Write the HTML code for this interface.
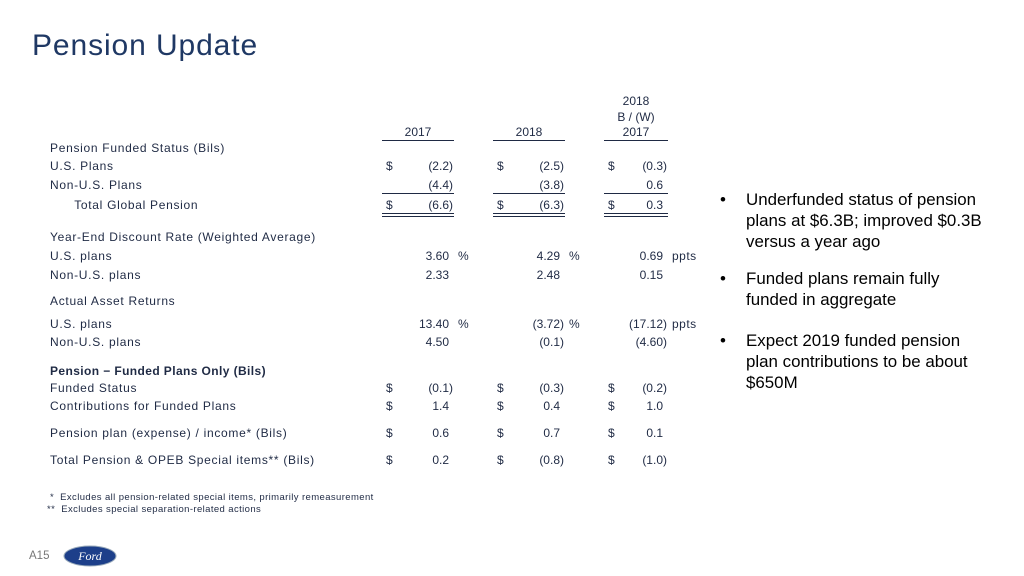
<!DOCTYPE html>
<html><head><meta charset="utf-8">
<style>
body{margin:0;width:1024px;height:576px;background:#fff;position:relative;overflow:hidden;font-family:"Liberation Sans",sans-serif;color:#1f2a44}
.t{position:absolute;font-size:11.5px;line-height:14px;white-space:nowrap}
.lab{font-size:12px;letter-spacing:.7px}
.r{text-align:right}
.b{position:absolute;font-size:16.9px;line-height:21px;color:#000;white-space:nowrap}
.ln{position:absolute;height:1px;background:#1f2a44}
</style></head><body>
<div style="position:absolute;left:32px;top:29px;font-size:30px;letter-spacing:.9px;color:#1f3864">Pension Update</div>
<div id="tbl"></div>
<div>
<div class="b" style="left:720px;top:189px">•</div><div class="b" style="left:746px;top:189px">Underfunded status of pension<br>plans at $6.3B; improved $0.3B<br>versus a year ago</div>
<div class="b" style="left:720px;top:268px">•</div><div class="b" style="left:746px;top:268px">Funded plans remain fully<br>funded in aggregate</div>
<div class="b" style="left:720px;top:330px">•</div><div class="b" style="left:746px;top:330px">Expect 2019 funded pension<br>plan contributions to be about<br>$650M</div>
</div>
<div class="t" style="left:50px;top:491px;font-size:9.5px;letter-spacing:.4px">* &nbsp;Excludes all pension-related special items, primarily remeasurement</div>
<div class="t" style="left:47px;top:503px;font-size:9.5px;letter-spacing:.4px">** &nbsp;Excludes special separation-related actions</div>
<div class="t" style="left:29px;top:549px;color:#777">A15</div>
<svg style="position:absolute;left:63px;top:545px" width="54" height="22"><ellipse cx="27" cy="11" rx="26" ry="10" fill="#1d3f8a" stroke="#9ab" stroke-width="1"/><text x="27" y="15" font-size="12" font-style="italic" fill="#fff" text-anchor="middle" font-family="Liberation Serif,serif">Ford</text></svg>
<script>
const rows=[
 [148,"Pension Funded Status (Bils)"],
 [166,"U.S. Plans",["$","(2.2)"],["$","(2.5)"],["$","(0.3)"]],
 [185,"Non-U.S. Plans",["","(4.4)"],["","(3.8)"],["","0.6"]],
 [205,"   Total Global Pension",["$","(6.6)"],["$","(6.3)"],["$","0.3"]],
 [237,"Year-End Discount Rate (Weighted Average)"],
 [256,"U.S. plans",["","3.60","%"],["","4.29","%"],["","0.69","ppts"]],
 [275,"Non-U.S. plans",["","2.33"],["","2.48"],["","0.15"]],
 [301,"Actual Asset Returns"],
 [324,"U.S. plans",["","13.40","%"],["","(3.72)","%"],["","(17.12)","ppts"]],
 [342,"Non-U.S. plans",["","4.50"],["","(0.1)"],["","(4.60)"]],
 [371,"<b style='letter-spacing:.4px'>Pension − Funded Plans Only (Bils)</b>"],
 [388,"Funded Status",["$","(0.1)"],["$","(0.3)"],["$","(0.2)"]],
 [406,"Contributions for Funded Plans",["$","1.4"],["$","0.4"],["$","1.0"]],
 [433,"Pension plan (expense) / income* (Bils)",["$","0.6"],["$","0.7"],["$","0.1"]],
 [460,"Total Pension &amp; OPEB Special items** (Bils)",["$","0.2"],["$","(0.8)"],["$","(1.0)"]]
];
const cols=[[382,454],[493,565],[604,668]];
const tb=document.getElementById('tbl');
function add(html,cls,st,name){const d=document.createElement('div');d.className=cls;d.style.cssText=st;d.innerHTML=html;


tb.appendChild(d);}
function ln(x,y,w){const d=document.createElement('div');d.className='ln';d.style.cssText=`left:${x}px;top:${y}px;width:${w}px`;


tb.appendChild(d);}
add("2018<br>B / (W)",'t',"left:604px;top:93px;width:64px;text-align:center;line-height:16px;font-size:12px",'header-variance');
["2017","2018","2017"].forEach((h,i)=>{add(h,'t',`left:${cols[i][0]}px;top:125px;width:${cols[i][1]-cols[i][0]}px;text-align:center;font-size:12px`,'column-header');ln(cols[i][0],140,cols[i][1]-cols[i][0]);});
rows.forEach(r=>{
 add(r[1].replace(/^ +/,m=>'&nbsp;'.repeat(m.length*2)),'t lab',`left:50px;top:${r[0]-7}px`,'row-label');
 for(let i=0;i<3;i++){const c=r[i+2];if(!c)continue;
  if(c[0])add('$','t',`left:${cols[i][0]+4}px;top:${r[0]-7}px;font-size:12px`,'dollar-sign');
  const pr=c[1].endsWith(')')?0:4;
  add(c[1],'t r',`left:${cols[i][0]}px;width:${cols[i][1]-cols[i][0]-pr-1}px;top:${r[0]-7}px;font-size:12px`,'cell-value');
  if(c[2])add(c[2],'t',`left:${cols[i][1]+4}px;top:${r[0]-7}px;font-size:12px;letter-spacing:.5px`,'unit');
 }});
cols.forEach(c=>{ln(c[0],193,c[1]-c[0]);ln(c[0],213,c[1]-c[0]);ln(c[0],216,c[1]-c[0]);});
</script>
</body></html>
